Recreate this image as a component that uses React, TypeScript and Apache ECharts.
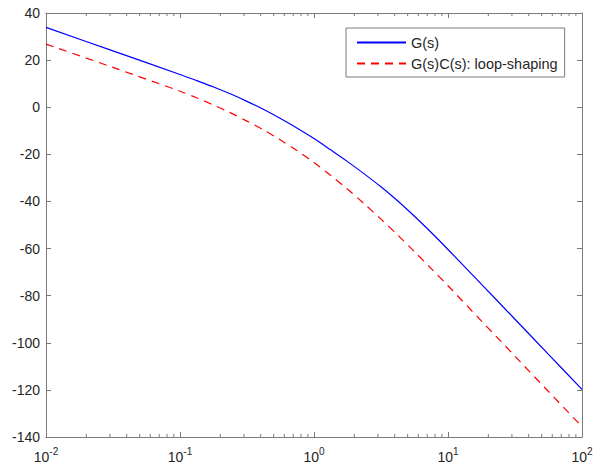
import React, { useEffect, useRef } from "react";
import * as echarts from "echarts";

// Frequency points (rad/s) and magnitude in dB for each response
const freqs = [
  0.01, 0.0316, 0.1, 0.133, 0.178, 0.237, 0.316, 0.422, 0.562, 0.75,
  1, 1.33, 1.78, 2.37, 3.16, 4.22, 5.62, 7.5, 10, 17.8, 31.6, 56.2, 100,
];
const plantDb = [
  33.9, 23.9, 13.9, 11.3, 8.6, 5.7, 2.5, -1.0, -4.8, -8.9,
  -13.3, -18.1, -23.1, -28.3, -33.8, -39.8, -46.3, -53.2, -60.4, -75.2, -90.0, -104.9, -119.8,
];
const loopDb = [
  26.8, 16.9, 6.8, 4.0, 0.9, -2.3, -5.9, -9.7, -13.9, -18.5,
  -23.5, -28.9, -34.8, -41.0, -47.5, -54.3, -61.3, -68.5, -75.8, -90.8, -105.7, -120.7, -135.6,
];

const seriesNames = ["G(s)", "G(s)C(s): loop-shaping"];

// Minor tick positions on the log axis (2..9 within each decade)
const decades = [0.01, 0.1, 1, 10];
const minorTicks: number[] = [];
decades.forEach((d) => {
  for (let k = 2; k <= 9; k++) minorTicks.push(+(k * d).toPrecision(3));
});

const yMin = -140;
const yMax = 40;
const yStep = 20;

const axisColor = "#7a7a7a";
const textColor = "#262626";
const fontFamily = "'Liberation Sans', Arial, Helvetica, sans-serif";

export default function App() {
  const ref = useRef<HTMLDivElement>(null);

  useEffect(() => {
    if (!ref.current) return;
    const chart = echarts.init(ref.current, undefined, { renderer: "svg" });

    const xAxisBase = {
      type: "log" as const,
      logBase: 10,
      min: 0.01,
      max: 100,
      splitNumber: 4,
      splitLine: { show: false },
      axisLine: { show: true, onZero: false, lineStyle: { color: axisColor, width: 1 } },
      axisTick: { show: true, inside: true, length: 5, lineStyle: { color: axisColor } },
    };
    const yAxisBase = {
      type: "value" as const,
      min: yMin,
      max: yMax,
      interval: yStep,
      splitLine: { show: false },
      axisLine: { show: true, onZero: false, lineStyle: { color: axisColor, width: 1 } },
      axisTick: { show: true, inside: true, length: 5, lineStyle: { color: axisColor } },
    };

    chart.setOption({
      animation: false,
      textStyle: { fontFamily },
      grid: { left: 46, top: 13, right: 16, bottom: 35, containLabel: false },
      legend: {
        show: true,
        orient: "vertical",
        left: 346,
        top: 28,
        data: seriesNames,
        itemWidth: 49,
        itemHeight: 12,
        itemGap: 6,
        padding: [7, 7, 6, 10],
        backgroundColor: "#ffffff",
        borderColor: axisColor,
        borderWidth: 1,
        borderRadius: 0,
        itemStyle: { opacity: 0 },
        textStyle: { color: textColor, fontSize: 14.5, fontFamily },
      },
      xAxis: [
        {
          ...xAxisBase,
          position: "bottom",
          axisLabel: {
            show: true,
            margin: 7,
            color: textColor,
            formatter: (v: number) => `{b|10}{e|${Math.round(Math.log10(v))}}`,
            rich: {
              b: { fontSize: 14, lineHeight: 20, verticalAlign: "bottom", color: textColor, fontFamily },
              e: { fontSize: 10, lineHeight: 20, verticalAlign: "top", padding: [2, 0, 0, 0], color: textColor, fontFamily },
            },
          },
        },
        {
          ...xAxisBase,
          position: "top",
          axisLabel: { show: false },
        },
      ],
      yAxis: [
        {
          ...yAxisBase,
          position: "left",
          axisLabel: { show: true, margin: 6, color: textColor, fontSize: 14 },
        },
        {
          ...yAxisBase,
          position: "right",
          axisLabel: { show: false },
        },
      ],
      series: [
        {
          name: seriesNames[0],
          type: "line",
          xAxisIndex: 0,
          yAxisIndex: 0,
          data: freqs.map((f, i) => [f, plantDb[i]]),
          smooth: 0.3,
          symbol: "none",
          lineStyle: { color: "#0000ff", width: 1.2, type: "solid" },
          itemStyle: { color: "#0000ff" },
          z: 3,
        },
        {
          name: seriesNames[1],
          type: "line",
          xAxisIndex: 0,
          yAxisIndex: 0,
          data: freqs.map((f, i) => [f, loopDb[i]]),
          smooth: 0.3,
          symbol: "none",
          lineStyle: { color: "#ff0000", width: 1.2, type: [8, 6] },
          itemStyle: { color: "#ff0000" },
          z: 3,
        },
        {
          name: "minor",
          type: "custom",
          xAxisIndex: 0,
          yAxisIndex: 0,
          silent: true,
          clip: false,
          data: minorTicks.map((f) => [f]),
          renderItem: (params: any, api: any) => {
            const f = api.value(0);
            const bottom = api.coord([f, yMin]);
            const top = api.coord([f, yMax]);
            const style = { stroke: axisColor, lineWidth: 1 };
            return {
              type: "group",
              children: [
                { type: "line", shape: { x1: bottom[0], y1: bottom[1], x2: bottom[0], y2: bottom[1] - 3 }, style },
                { type: "line", shape: { x1: top[0], y1: top[1], x2: top[0], y2: top[1] + 3 }, style },
              ],
            };
          },
          z: 2,
        },
      ],
    });

    return () => chart.dispose();
  }, []);

  return (
    <div
      ref={ref}
      style={{ position: "fixed", left: 0, top: 0, width: 598, height: 472, background: "#ffffff" }}
    />
  );
}
